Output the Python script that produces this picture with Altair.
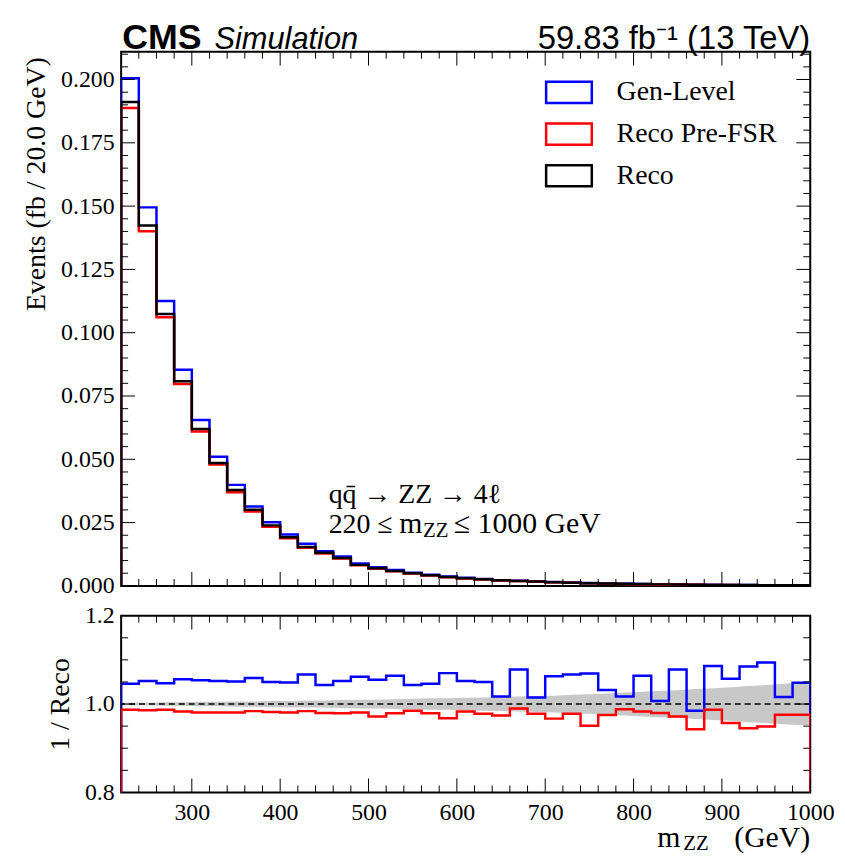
import altair as alt
import pandas as pd

# ---------------- data ----------------
bin_low = list(range(220, 1000, 20))   # 39 bins of 20 GeV
x_hi = 1000
bin_centers = [b + 10 for b in bin_low]

series_names = ["Gen-Level", "Reco Pre-FSR", "Reco"]
series_colors = ["#0000ff", "#ff0000", "#000000"]

reco = [0.1911, 0.1423, 0.1074, 0.0808, 0.0620, 0.0485, 0.0379, 0.0301, 0.0239, 0.0192,
        0.0154, 0.0131, 0.0110, 0.0083, 0.0070, 0.0059, 0.0050, 0.0042, 0.0035, 0.0030,
        0.0026, 0.0022, 0.0019, 0.0017, 0.0014, 0.0012, 0.00105, 0.0009, 0.0008, 0.0007,
        0.0006, 0.00053, 0.00046, 0.0004, 0.00035, 0.00031, 0.00027, 0.00024, 0.00021]
gen = [0.2005, 0.1495, 0.1125, 0.0854, 0.0655, 0.0510, 0.0399, 0.0314, 0.0251, 0.0203,
       0.0166, 0.0137, 0.0116, 0.0088, 0.0074, 0.0063, 0.0052, 0.0044, 0.0037, 0.0032,
       0.0027, 0.0022, 0.0020, 0.0017, 0.0015, 0.0013, 0.0011, 0.00093, 0.00081, 0.00074,
       0.0006, 0.00057, 0.00045, 0.00043, 0.00037, 0.00034, 0.0003, 0.00024, 0.00022]
prefsr = [0.1888, 0.1401, 0.1061, 0.0797, 0.0610, 0.0479, 0.0370, 0.0294, 0.0234, 0.0188,
          0.0151, 0.0128, 0.0108, 0.0081, 0.0068, 0.0058, 0.0049, 0.0041, 0.0034, 0.0029,
          0.0025, 0.0021, 0.0019, 0.0017, 0.0014, 0.0012, 0.0010, 0.00089, 0.00079, 0.00069,
          0.00059, 0.00052, 0.00043, 0.00039, 0.00034, 0.00029, 0.00026, 0.00023, 0.0002]

ratio_gen = [1.046, 1.052, 1.047, 1.056, 1.054, 1.052, 1.051, 1.059, 1.050, 1.049,
             1.067, 1.043, 1.052, 1.062, 1.055, 1.064, 1.043, 1.046, 1.070, 1.052,
             1.050, 1.017, 1.078, 1.015, 1.063, 1.067, 1.069, 1.032, 1.017, 1.064,
             1.007, 1.078, 0.985, 1.086, 1.057, 1.085, 1.094, 1.016, 1.048]
ratio_pre = [0.987, 0.986, 0.987, 0.983, 0.981, 0.981, 0.981, 0.984, 0.982, 0.981,
             0.984, 0.980, 0.979, 0.981, 0.972, 0.979, 0.985, 0.979, 0.968, 0.983,
             0.978, 0.974, 0.990, 0.978, 0.967, 0.978, 0.951, 0.975, 0.988, 0.983,
             0.980, 0.972, 0.943, 0.987, 0.957, 0.945, 0.949, 0.976, 0.976]
band_half = [0.003, 0.003, 0.004, 0.004, 0.005, 0.005, 0.006, 0.006, 0.007, 0.007,
             0.008, 0.008, 0.009, 0.010, 0.010, 0.011, 0.012, 0.013, 0.013, 0.014,
             0.015, 0.016, 0.017, 0.018, 0.019, 0.021, 0.022, 0.024, 0.026, 0.028,
             0.030, 0.031, 0.034, 0.036, 0.038, 0.041, 0.043, 0.046, 0.048]

main_y_labels = [0.0, 0.025, 0.05, 0.075, 0.1, 0.125, 0.15, 0.175, 0.2]
main_y_minor = [0.005, 0.01, 0.015, 0.02, 0.03, 0.035, 0.04, 0.045, 0.055, 0.06, 0.065, 0.07,
                0.08, 0.085, 0.09, 0.095, 0.105, 0.11, 0.115, 0.12, 0.13, 0.135, 0.14, 0.145,
                0.155, 0.16, 0.165, 0.17, 0.18, 0.185, 0.19, 0.195, 0.205, 0.21]
ratio_y_labels = [0.8, 1.0, 1.2]
ratio_y_minor = [0.85, 0.9, 0.95, 1.05, 1.1, 1.15]
x_labels = [300, 400, 500, 600, 700, 800, 900, 1000]
x_minor = [240, 260, 280, 320, 340, 360, 380, 420, 440, 460, 480, 520, 540, 560, 580,
           620, 640, 660, 680, 720, 740, 760, 780, 820, 840, 860, 880, 920, 940, 960, 980]

# ---------------- layout / style ----------------
W = 694
H_MAIN = 538
H_RATIO = 178
SERIF = "Liberation Serif"
SANS = "Liberation Sans"
MAJ = 14
MIN = 7

xscale = alt.Scale(domain=[220, 1000], nice=False, zero=False)
yscale_main = alt.Scale(domain=[0, 0.211], nice=False, zero=False)
yscale_ratio = alt.Scale(domain=[0.8, 1.2], nice=False, zero=False)
color_scale = alt.Scale(domain=series_names, range=series_colors)


def step_table(name, vals, floor):
    xs = [bin_low[0]] + bin_low + [x_hi, x_hi]
    ys = [floor] + list(vals) + [vals[-1], floor]
    return pd.DataFrame({"series": name, "x": xs, "y": ys, "i": list(range(len(xs)))})


def y_axis(values, fmt, title, anchor, **kw):
    return alt.Axis(values=values, format=fmt, title=title, titleAnchor=anchor,
                    labelFont=SERIF, labelFontSize=24, labelColor="black", labelPadding=7,
                    ticks=False, tickSize=0, domain=False, grid=False, labelOverlap=False,
                    titleFont=SERIF, titleFontSize=28, titleFontWeight="normal",
                    titleColor="black", titlePadding=10, **kw)


ratio_x_axis = alt.Axis(values=x_labels, format="d", title=None, labelFont=SERIF,
                        labelFontSize=24, labelColor="black", labelPadding=8,
                        ticks=False, tickSize=0, domain=False, grid=False,
                        labelFlush=False, labelOverlap=False)
main_y_axis = y_axis(main_y_labels, ".3f", "Events (fb / 20.0 GeV)", "end", titleY=5)
ratio_y_axis = y_axis(ratio_y_labels, ".1f", "1 / Reco", "middle")


def tick_layers(xvals, yvals, ysc, H, length, xax, yax):
    out = []
    dx = pd.DataFrame({"t": xvals})
    bx = alt.Chart(dx).mark_rule(color="black", strokeWidth=1)
    out.append(bx.encode(x=alt.X("t:Q", scale=xscale, axis=xax), y=alt.value(H), y2=alt.value(H - length)))
    out.append(bx.encode(x=alt.X("t:Q", scale=xscale, axis=xax), y=alt.value(0), y2=alt.value(length)))
    dy = pd.DataFrame({"t": yvals})
    by = alt.Chart(dy).mark_rule(color="black", strokeWidth=1)
    out.append(by.encode(y=alt.Y("t:Q", scale=ysc, axis=yax), x=alt.value(0), x2=alt.value(length)))
    out.append(by.encode(y=alt.Y("t:Q", scale=ysc, axis=yax), x=alt.value(W - length), x2=alt.value(W)))
    return out


def text_layer(s, x, y, size, font=SERIF, align="left", weight="normal", style="normal"):
    return alt.Chart(pd.DataFrame({"t": [s]})).mark_text(
        align=align, baseline="alphabetic", font=font, fontSize=size,
        fontWeight=weight, fontStyle=style, color="black"
    ).encode(text="t:N", x=alt.value(x), y=alt.value(y))


legend = alt.Legend(orient="none", legendX=432, legendY=22, title=None,
                    symbolType="M-1.3,-0.6L1.3,-0.6L1.3,0.6L-1.3,0.6Z", symbolSize=1252,
                    symbolStrokeWidth=2.5, symbolFillColor="transparent",
                    labelFont=SERIF, labelFontSize=28, labelColor="black", labelLimit=0,
                    labelOffset=29, rowPadding=7, padding=0)

# ---------------- main panel ----------------
main_layers = []
for name, vals in zip(series_names, [gen, prefsr, reco]):
    main_layers.append(
        alt.Chart(step_table(name, vals, 0.0)).mark_line(
            interpolate="step-after", strokeWidth=2.5, clip=True
        ).encode(
            x=alt.X("x:Q", scale=xscale, axis=None),
            y=alt.Y("y:Q", scale=yscale_main, axis=main_y_axis),
            color=alt.Color("series:N", scale=color_scale, legend=legend),
            order="i:Q",
        )
    )
main_layers += tick_layers(x_labels, main_y_labels[1:], yscale_main, H_MAIN, MAJ, None, main_y_axis)
main_layers += tick_layers(x_minor, main_y_minor, yscale_main, H_MAIN, MIN, None, main_y_axis)
main_layers += [
    text_layer("CMS", 1, -3, 36, font=SANS, weight="bold"),
    text_layer("Simulation", 94, -3, 31, font=SANS, style="italic"),
    text_layer("59.83 fb\u207b\u00b9 (13 TeV)", W, -3, 33, font=SANS, align="right"),
    text_layer("q\u0071\u0304 \u2192 ZZ \u2192 4\u2113", 209, 455, 28),
    text_layer("220 \u2264", 209, 485, 28),
    text_layer("m", 280, 485, 30),
    text_layer("ZZ", 304, 489, 21),
    text_layer("\u2264 1000 GeV", 335, 485, 30),
]
main = alt.layer(*main_layers).properties(width=W, height=H_MAIN)

# ---------------- ratio panel ----------------
band_x = [bin_low[0]] + bin_centers + [x_hi]
band_h = [band_half[0]] + band_half + [band_half[-1]]
band_df = pd.DataFrame({"x": band_x,
                        "lo": [1 - h for h in band_h],
                        "hi": [1 + h for h in band_h]})

ratio_layers = [
    alt.Chart(band_df).mark_area(color="#c8c8c8", clip=True).encode(
        x=alt.X("x:Q", scale=xscale, axis=ratio_x_axis),
        y=alt.Y("lo:Q", scale=yscale_ratio, axis=ratio_y_axis),
        y2="hi:Q",
    ),
    alt.Chart(pd.DataFrame({"y": [1.0]})).mark_rule(
        color="black", strokeWidth=1.5, strokeDash=[6, 4]
    ).encode(y=alt.Y("y:Q", scale=yscale_ratio, axis=ratio_y_axis)),
]
for name, vals, col in [("Gen-Level", ratio_gen, "#0000ff"), ("Reco Pre-FSR", ratio_pre, "#ff0000")]:
    ratio_layers.append(
        alt.Chart(step_table(name, vals, 0.0)).mark_line(
            interpolate="step-after", strokeWidth=2.5, clip=True, color=col
        ).encode(
            x=alt.X("x:Q", scale=xscale, axis=ratio_x_axis),
            y=alt.Y("y:Q", scale=yscale_ratio, axis=ratio_y_axis),
            order="i:Q",
        )
    )
ratio_layers += tick_layers(x_labels, ratio_y_labels[1:2], yscale_ratio, H_RATIO, MAJ, ratio_x_axis, ratio_y_axis)
ratio_layers += tick_layers(x_minor, ratio_y_minor, yscale_ratio, H_RATIO, MIN, ratio_x_axis, ratio_y_axis)
ratio_layers += [
    text_layer("m", 540, 233, 30),
    text_layer("ZZ", 566, 236, 21),
    text_layer("(GeV)", W, 233, 30, align="right"),
]
ratio = alt.layer(*ratio_layers).properties(width=W, height=H_RATIO)

chart = alt.vconcat(main, ratio, spacing=30, bounds="flush").properties(
    padding={"left": 21, "top": 16, "right": 10, "bottom": 0},
    background="white",
).configure_view(stroke="black", strokeWidth=2)

chart.save("out.html", embed_options={"renderer": "svg", "actions": False})
